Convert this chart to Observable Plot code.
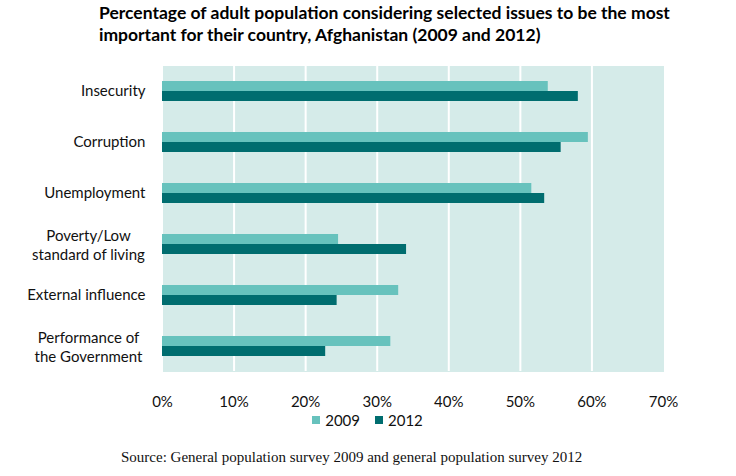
<!DOCTYPE html>
<html><head><meta charset="utf-8">
<script src="https://cdn.jsdelivr.net/npm/d3@7"></script>
<script src="https://cdn.jsdelivr.net/npm/@observablehq/plot@0.6"></script>
<style>
body{margin:0;background:#fff;width:736px;height:476px;overflow:hidden;font-family:Lato,sans-serif;color:#111}
#title{box-sizing:border-box;height:50px;padding:2px 0 0 99px;font-weight:bold;font-size:17.5px;line-height:22px;color:#000}
#chart svg{display:block}
#legend{height:16px;padding-left:14px}
#legend [class*="-swatches"]{justify-content:center !important;min-height:0 !important;margin:0 !important;font-family:Lato,sans-serif !important;font-size:15px !important;color:#111;line-height:16px}
#legend [class*="-swatch"] > svg{margin-right:5px !important}
#source{font-family:"Liberation Serif",serif;font-size:15px;line-height:16px;padding-left:121px;margin-top:21px;color:#111}
</style></head><body>
<div id="title">Percentage of adult population considering selected issues to be the most<br>important for their country, Afghanistan (2009 and 2012)</div>
<div id="chart"></div>
<div id="legend"></div>
<div id="source">Source: General population survey 2009 and general population survey 2012</div>
<script>
const categories = ["Insecurity","Corruption","Unemployment","Poverty/Low\nstandard of living","External influence","Performance of\nthe Government"];
const years = ["2009","2012"];
const values2009 = [53.9, 59.5, 51.6, 24.6, 33.0, 31.9];
const values2012 = [58.1, 55.7, 53.4, 34.1, 24.4, 22.8];
const xTicks = [0,10,20,30,40,50,60,70];
const gridTicks = [10,20,30,40,50,60];
const colors = ["#67c2bd","#006d6f"];

const data = categories.flatMap((c,i)=>[
  {category:c, year:years[0], value:values2009[i]},
  {category:c, year:years[1], value:values2012[i]}
]);

const chart = Plot.plot({
  width:736, height:362, marginTop:14, marginBottom:40, marginLeft:162, marginRight:73,
  style:{fontFamily:"Lato, sans-serif", fontSize:"15px", color:"#111", background:"#fff"},
  x:{domain:[0,70], ticks:xTicks, tickFormat:d=>d+"%", tickSize:0, tickPadding:25, label:null},
  y:{domain:years, axis:null, paddingInner:0, paddingOuter:1.37},
  fy:{domain:categories, axis:null, padding:0},
  color:{domain:years, range:colors},
  marks:[
    Plot.frame({fill:"#d5ebe9", stroke:"none", shapeRendering:"crispEdges"}),
    Plot.gridX(gridTicks, {stroke:"#fff", strokeOpacity:1, strokeWidth:2}),
    Plot.barX(data, {fy:"category", y:"year", x:"value", fill:"year"}),
    Plot.text(categories.filter(c=>!c.includes("\n")), {fy:d=>d, text:d=>d, frameAnchor:"left", textAnchor:"end", dx:-17, fill:"#111"}),
    Plot.text(categories.filter(c=>c.includes("\n")), {fy:d=>d, text:d=>d, frameAnchor:"left", textAnchor:"middle", dx:-74, lineHeight:1.3, fill:"#111"})
  ]
});
document.getElementById("chart").appendChild(chart);
document.getElementById("legend").appendChild(chart.legend("color", {swatchSize:8, style:{fontFamily:"Lato, sans-serif", fontSize:"15px"}}));
</script>
</body></html>
